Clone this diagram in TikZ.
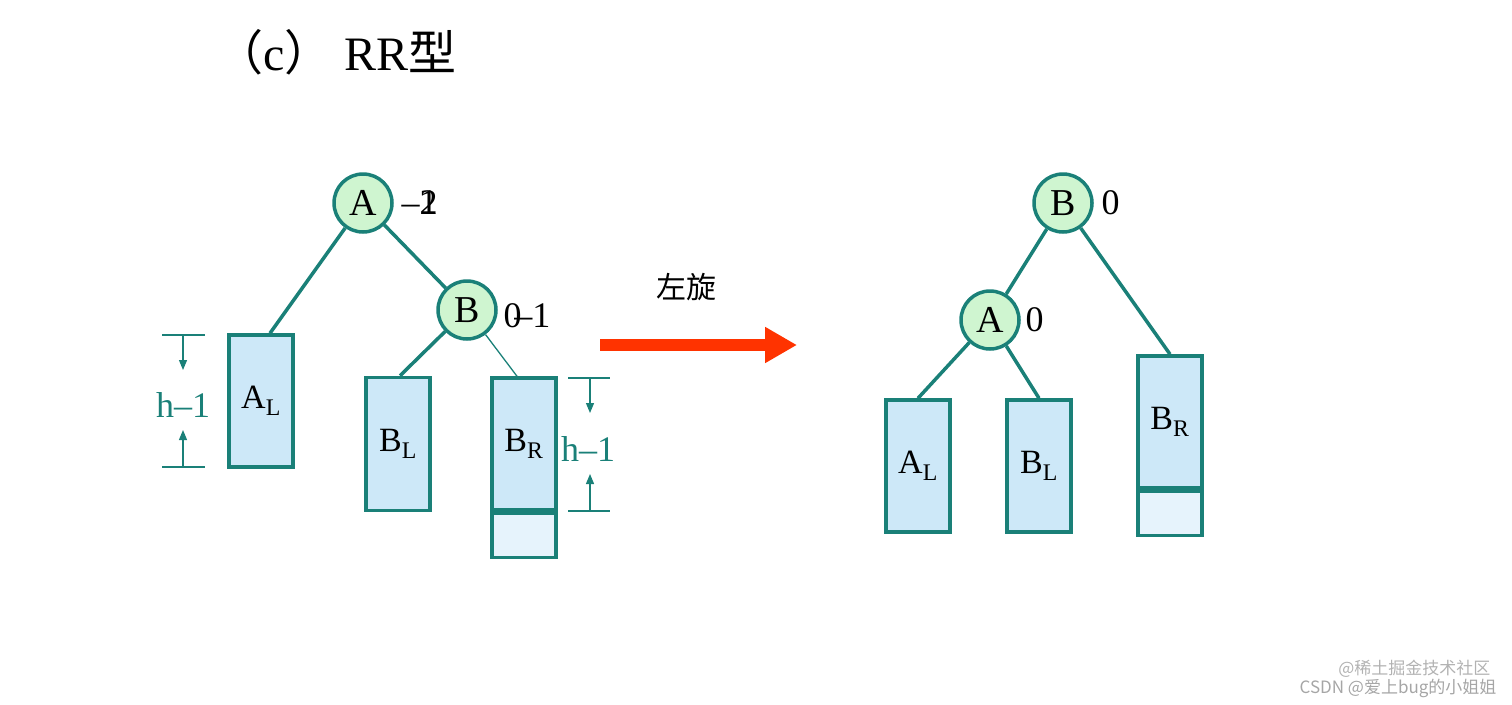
\documentclass[tikz,border=0pt]{standalone}
\usepackage{fontspec}
\setmainfont{Liberation Serif}
\newfontfamily\cjk{Noto Sans CJK SC}
\usetikzlibrary{arrows.meta}
\definecolor{tl}{HTML}{1A8078}
\definecolor{cf}{HTML}{CFF5D0}
\definecolor{bf}{HTML}{CDE8F8}
\definecolor{ef}{HTML}{E6F3FC}
\definecolor{rd}{HTML}{FF3300}
\begin{document}
\begin{tikzpicture}[x=1pt,y=-1pt,
 circ/.style={circle,draw=tl,line width=3.5pt,fill=cf,minimum size=58pt,inner sep=0pt,font=\fontsize{38}{38}\selectfont},
 box/.style={draw=tl,line width=3.5pt,fill=bf,minimum width=64pt,inner sep=0pt,font=\fontsize{34}{34}\selectfont},
 ext/.style={draw=tl,line width=3.5pt,fill=ef,minimum width=64pt,minimum height=44pt,inner sep=0pt},
 edge/.style={draw=tl,line width=3.5pt},
 lab/.style={font=\fontsize{36}{36}\selectfont,anchor=west},
 dim/.style={draw=tl,line width=1.2pt},
 darr/.style={draw=tl,line width=1.2pt,-{Triangle[length=10pt,width=8pt]}},
 dtxt/.style={text=tl,font=\fontsize{36}{36}\selectfont}]
\useasboundingbox (0,0) rectangle (1512,704);
\node[font=\fontsize{48}{48}\selectfont,anchor=west] (title) at (212,52) {{\cjk （}c{\cjk ）} RR{\cjk 型}};
% left tree
\node[circ] (A1) at (363,203) {A};
\node[lab] (a1) at (398,203) {\textendash\rlap{2}1};
\node[circ] (B1) at (467,310) {B};
\node[lab] (b1) at (500,316) {\makebox[0.3em][l]{0}\textendash1};
\node[box,minimum height=132pt] (AL1) at (261,401) {A\textsubscript{L}};
\node[box,minimum height=133pt] (BL1) at (398,444) {B\textsubscript{L}};
\node[box,minimum height=132pt] (BR1) at (524,444) {B\textsubscript{R}};
\node[ext,anchor=north] (X1) at (BR1.south) {};
\draw[edge] (A1) -- (AL1.north-|270,0);
\draw[edge] (A1) -- (B1);
\draw[edge] (B1) -- (BL1.north-|400,0);
\draw[draw=tl,line width=1.3pt] (B1) -- (BR1.north-|517,0);
% dims
\coordinate (d1) at (162,335); \coordinate (d2) at (205,335);
\coordinate (d3) at (162,467); \coordinate (d4) at (205,467);
\draw[dim] (d1) -- (d2); \draw[dim] (d3) -- (d4);
\coordinate (e1) at (183,335); \coordinate (e2) at (183,370);
\coordinate (e3) at (183,467); \coordinate (e4) at (183,430);
\draw[darr] (e1) -- (e2); \draw[darr] (e3) -- (e4);
\node[dtxt] (h1) at (183,405) {h\textendash1};
\coordinate (f1) at (568,378); \coordinate (f2) at (610,378);
\coordinate (f3) at (568,511); \coordinate (f4) at (610,511);
\draw[dim] (f1) -- (f2); \draw[dim] (f3) -- (f4);
\coordinate (g1) at (590,378); \coordinate (g2) at (590,413);
\coordinate (g3) at (590,511); \coordinate (g4) at (590,474);
\draw[darr] (g1) -- (g2); \draw[darr] (g3) -- (g4);
\node[dtxt] (h2) at (588,449) {h\textendash1};
% arrow
\coordinate (r1) at (600,345); \coordinate (r2) at (797,345);
\draw[rd,line width=12pt,-{Triangle[length=32pt,width=34pt]}] (r1) -- (r2);
\node[font=\cjk\fontsize{30}{30}\selectfont] (rot) at (686,287) {左旋};
% right tree
\node[circ] (B2) at (1063,203) {B};
\node[lab] (b2) at (1098,203) {0};
\node[circ] (A2) at (990,320) {A};
\node[lab] (a2) at (1022,320) {0};
\node[box,minimum height=132pt] (AL2) at (918,466) {A\textsubscript{L}};
\node[box,minimum height=132pt] (BL2) at (1039,466) {B\textsubscript{L}};
\node[box,minimum height=132pt] (BR2) at (1170,422) {B\textsubscript{R}};
\node[ext,anchor=north] (X2) at (BR2.south) {};
\draw[edge] (B2) -- (A2);
\draw[edge] (B2) -- (BR2.north);
\draw[edge] (A2) -- (AL2.north);
\draw[edge] (A2) -- (BL2.north);
% watermark
\node[text=gray!60,font=\cjk\fontsize{17}{17}\selectfont,anchor=east] (w1) at (1494,669) {@稀土掘金技术社区};
\node[text=gray!70,font=\cjk\fontsize{17}{17}\selectfont,anchor=east] (w2) at (1500,688) {CSDN @爱上bug的小姐姐};
\end{tikzpicture}
\end{document}
